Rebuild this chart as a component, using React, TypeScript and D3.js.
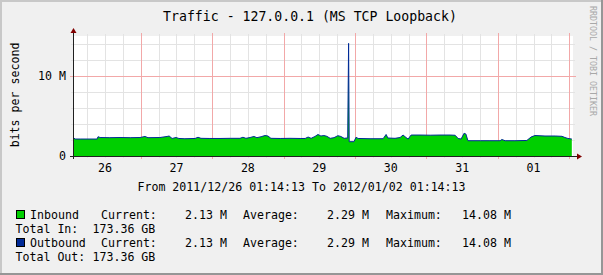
import React from "react";
import * as d3 from "d3";

// ---- data ----
const startTime = new Date(2011, 11, 26, 1, 14, 13);
const hours = [
  0, 0.7, 2.4, 5.7, 8.1, 8.4, 9.1, 12.4, 15.8, 19.2, 22.5, 24.2, 25.2, 29.2, 31.6, 32.3, 33.3, 34.6, 35.6, 37.6,
  41.0, 42.0, 43.0, 46.0, 49.4, 52.8, 56.1, 57.1, 58.1, 59.5, 60.8, 61.8, 63.2, 64.5, 65.5, 66.5, 69.6, 72.9, 76.3, 78.0,
  79.0, 80.0, 81.3, 82.3, 83.3, 84.3, 85.3, 86.4, 87.7, 89.0, 90.0, 91.1, 92.1, 92.3, 92.6, 92.8, 94.4, 95.1, 95.8, 99.8,
  104.2, 105.2, 105.8, 108.2, 109.9, 110.9, 111.9, 112.6, 113.6, 116.6, 120.0, 123.3, 126.7, 128.4, 129.4, 130.4, 131.4, 132.0, 132.7, 136.8,
  140.1, 143.5, 144.1, 145.2, 148.5, 152.5, 153.9, 155.2, 158.6, 162.0, 164.3, 165.3, 166.3, 167.6,
];
// Mbit/s
const inbound = [
  2.34, 2.12, 2.12, 2.12, 2.12, 2.41, 2.31, 2.29, 2.31, 2.29, 2.31, 2.44, 2.29, 2.31, 2.44, 2.5, 2.19, 2.31, 2.19, 2.16,
  2.19, 2.34, 2.21, 2.19, 2.19, 2.21, 2.21, 2.34, 2.21, 2.31, 2.44, 2.29, 2.41, 2.56, 2.5, 2.21, 2.19, 2.21, 2.19, 2.19,
  2.37, 2.21, 2.44, 2.69, 2.5, 2.56, 2.46, 2.21, 2.29, 2.54, 2.44, 2.21, 2.25, 2.25, 14.08, 1.79, 1.79, 2.34, 2.19, 2.16,
  2.16, 2.69, 2.25, 2.21, 2.31, 2.62, 2.31, 2.12, 2.62, 2.62, 2.6, 2.62, 2.62, 2.59, 2.19, 2.12, 2.84, 2.75, 1.91, 1.91,
  1.91, 1.91, 2.06, 1.91, 1.91, 1.94, 2.37, 2.56, 2.5, 2.5, 2.46, 2.31, 2.19, 2.12,
];
const outbound = inbound;

const yMinorTicks = [2, 4, 6, 8, 12, 14];
const yMajorTicks = [0, 10];
const yTickLabels = ["0", "10 M"];

const titleText = "Traffic - 127.0.0.1 (MS TCP Loopback)";
const yAxisTitle = "bits per second";
const rangeText = "From 2011/12/26 01:14:13 To 2012/01/02 01:14:13";
const legendNames = ["Inbound", "Outbound"];
const legendCurrent = ["2.13 M", "2.13 M"];
const legendAverage = ["2.29 M", "2.29 M"];
const legendMaximum = ["14.08 M", "14.08 M"];
const legendTotalLabel = ["Total In:", "Total Out:"];
const legendTotals = ["173.36 GB", "173.36 GB"];
const seriesColors = ["#00CF00", "#002A97"];

export default function App() {
  const W = 603, H = 275;
  const x0 = 73, x1 = 573, yTop = 36, yBot = 156;
  const endTime = new Date(startTime.getTime() + 7 * 24 * 3600 * 1000);
  const x = d3.scaleTime().domain([startTime, endTime]).range([x0, x1]);
  const y = d3.scaleLinear().domain([0, 15]).range([yBot, yTop]);
  const pts = hours.map((h, i) => ({ t: new Date(startTime.getTime() + h * 3600 * 1000), v: inbound[i], o: outbound[i] }));
  const area = d3.area<any>().x(d => x(d.t)).y0(yBot).y1(d => y(d.v))(pts) || "";
  const line = d3.line<any>().x(d => x(d.t)).y(d => y(d.o))(pts) || "";

  const sixH = d3.timeHour.every(6)!.range(startTime, endTime).filter(d => d.getHours() !== 0);
  const days = d3.timeDay.range(startTime, endTime);
  const noons = d3.timeDay
    .range(d3.timeDay.floor(startTime), endTime)
    .map(d => new Date(d.getTime() + 12 * 3600 * 1000))
    .filter(d => d > startTime && d < endTime);
  const fmt = d3.timeFormat("%d");
  const font = "'DejaVu Sans Mono', monospace";
  const minorC = "#E3E3E3";
  const majorC = "#F2A8A8";

  const fs = 11.6;
  const legY = [219, 247];
  return (
    <svg width={W} height={H} style={{ position: "absolute", left: 0, top: 0 }} fontFamily={font}>
      <rect x={0} y={0} width={W} height={H} fill="#F0F0F0" />
      <rect x={0} y={0} width={W} height={2} fill="#C8C8C8" />
      <rect x={0} y={0} width={2} height={H} fill="#C8C8C8" />
      <rect x={0} y={H - 2} width={W} height={2} fill="#969696" />
      <rect x={W - 2} y={0} width={2} height={H} fill="#969696" />
      <rect x={x0} y={yTop} width={x1 - x0} height={yBot - yTop} fill="#FFFFFF" />
      {/* minor grid */}
      {yMinorTicks.map(v => (
        <line key={"hy" + v} x1={x0 - 2} x2={x1 + 2} y1={y(v) + 0.5} y2={y(v) + 0.5} stroke={minorC} />
      ))}
      {sixH.map((d, i) => (
        <line key={"vx" + i} x1={Math.round(x(d)) + 0.5} x2={Math.round(x(d)) + 0.5} y1={yTop - 2} y2={yBot + 2} stroke={minorC} />
      ))}
      {/* major grid */}
      {yMajorTicks.filter(v => v > 0).map(v => (
        <line key={"my" + v} x1={x0 - 3} x2={x1 + 3} y1={y(v) + 0.5} y2={y(v) + 0.5} stroke={majorC} />
      ))}
      {days.map((d, i) => (
        <line key={"mx" + i} x1={Math.round(x(d)) + 0.5} x2={Math.round(x(d)) + 0.5} y1={yTop - 3} y2={yBot + 3} stroke={majorC} />
      ))}
      {/* data */}
      <path d={area} fill={seriesColors[0]} />
      <path d={line} fill="none" stroke={seriesColors[1]} strokeWidth={1} />
      {/* axes */}
      <line x1={x0 - 3} x2={x1 + 5} y1={yBot + 0.5} y2={yBot + 0.5} stroke="#202020" />
      <line x1={x0 + 0.5} x2={x0 + 0.5} y1={yBot + 3} y2={yTop - 4} stroke="#202020" />
      <path d={`M${x1 + 4},${yBot - 2.5} L${x1 + 9},${yBot + 0.5} L${x1 + 4},${yBot + 3.5} Z`} fill="#800000" />
      <path d={`M${x0 - 2.5},${yTop - 3} L${x0 + 0.5},${yTop - 8} L${x0 + 3.5},${yTop - 3} Z`} fill="#800000" />
      {/* y labels */}
      {yMajorTicks.map((v, i) => (
        <text key={"yl" + v} x={66} y={y(v) + 4} textAnchor="end" fontSize={fs} fill="#000">{yTickLabels[i]}</text>
      ))}
      {noons.map((d, i) => (
        <text key={"xl" + i} x={x(d)} y={172} textAnchor="middle" fontSize={fs} fill="#000">{fmt(d)}</text>
      ))}
      <text x={310} y={21} textAnchor="middle" fontSize={13.2} fill="#000">{titleText}</text>
      <text transform="translate(19,95) rotate(-90)" textAnchor="middle" fontSize={fs} fill="#000">{yAxisTitle}</text>
      <text transform="translate(590,6) rotate(90)" textAnchor="start" fontSize={8.3} fill="#A8A8A8">RRDTOOL / TOBI OETIKER</text>
      <text x={301.5} y={191} textAnchor="middle" fontSize={fs} fill="#000">{rangeText}</text>
      {legendNames.map((n, i) => (
        <g key={"lg" + i}>
          <rect x={16.5} y={legY[i] - 8.5} width={8} height={8} fill={seriesColors[i]} stroke="#000" strokeWidth={1} />
          <text x={30} y={legY[i]} fontSize={fs} fill="#000">{n}</text>
          <text x={101} y={legY[i]} fontSize={fs} fill="#000">Current:</text>
          <text x={185} y={legY[i]} fontSize={fs} fill="#000">{legendCurrent[i]}</text>
          <text x={243} y={legY[i]} fontSize={fs} fill="#000">Average:</text>
          <text x={327} y={legY[i]} fontSize={fs} fill="#000">{legendAverage[i]}</text>
          <text x={386} y={legY[i]} fontSize={fs} fill="#000">Maximum:</text>
          <text x={462} y={legY[i]} fontSize={fs} fill="#000">{legendMaximum[i]}</text>
          <text x={15.5} y={legY[i] + 14} fontSize={fs} fill="#000">{legendTotalLabel[i]}</text>
          <text x={92.5} y={legY[i] + 14} fontSize={fs} fill="#000">{legendTotals[i]}</text>
        </g>
      ))}
    </svg>
  );
}
